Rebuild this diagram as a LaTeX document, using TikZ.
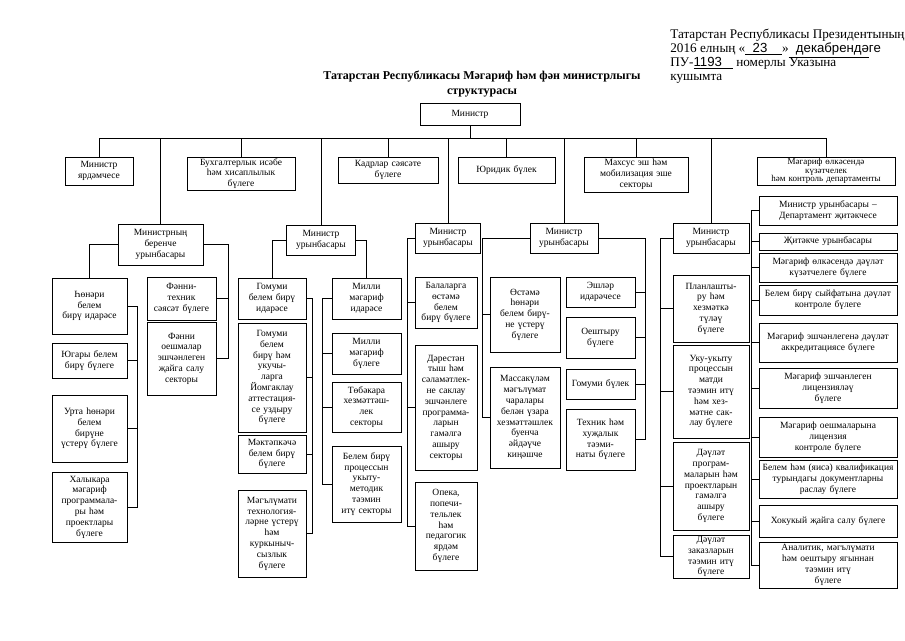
\documentclass[tikz,border=0pt]{standalone}
\usepackage{fontspec}
\setmainfont{Liberation Serif}
\newfontfamily\fillfont{Liberation Sans}
\tikzset{
    unit/.style={draw, align=center, inner xsep=2pt, inner ysep=1pt, font=\fontsize{9.5}{10.8}\selectfont},
    link/.style={-, draw=black},
}

\begin{document}
\begin{tikzpicture}[x=1pt, y=-1pt, line width=0.6pt]
    \useasboundingbox (0,0) rectangle (905,640);
    % header and title
    \node[anchor=north west, align=left, inner sep=0pt, font=\fontsize{13.2}{14}\selectfont] (hdr) at (670,29) {Татарстан Республикасы Президентының\\
        2016 елның «\underline{\fillfont\ \ 23\ \ \ \ }»\underline{\fillfont\ \ декабрендә}{\fillfont ге}\\
        ПУ-\underline{\fillfont 1193\ \ \ }\ номерлы Указына\\
        кушымта};
    \node[align=center, inner sep=0pt, font=\bfseries\fontsize{12}{15}\selectfont] (ttl) at (482,84) {Татарстан Республикасы Мәгариф һәм фән министрлыгы\\структурасы};
    \node[unit, text width=96pt, minimum height=22pt] (min) at (470,114) {Министр};
    % first row
    \node[unit, text width=64pt, minimum height=28pt] (yard) at (99,171) {Министр\\ярдәмчесе};
    \node[unit, text width=104pt, minimum height=33pt] (buh) at (241,173.5) {Бухгалтерлык исәбе\\һәм хисаплылык\\бүлеге};
    \node[unit, text width=96pt, minimum height=26pt] (kadr) at (388,170) {Кадрлар сәясәте\\бүлеге};
    \node[unit, text width=93pt, minimum height=26pt] (yurid) at (506.5,170) {Юридик бүлек};
    \node[unit, text width=100pt, minimum height=35pt] (mahsus) at (636,174.5) {Махсус эш һәм\\мобилизация эше\\секторы};
    \node[unit, text width=134pt, minimum height=28pt, font=\fontsize{9}{8.8}\selectfont] (dep) at (826,171) {Мәгариф өлкәсендә\\күзәтчелек\\һәм контроль департаменты};
    % deputies
    \node[unit, text width=81pt, minimum height=41pt] (dep1) at (160.5,244.5) {Министрның\\беренче\\урынбасары};
    \node[unit, text width=65pt, minimum height=30pt] (dep2) at (321,240) {Министр\\урынбасары};
    \node[unit, text width=61pt, minimum height=30pt] (dep3) at (448,238) {Министр\\урынбасары};
    \node[unit, text width=64pt, minimum height=30pt] (dep4) at (564,238) {Министр\\урынбасары};
    \node[unit, text width=72pt, minimum height=30pt] (dep5) at (711,238) {Министр\\урынбасары};
    % first deputy
    \node[unit, text width=71pt, minimum height=56pt] (hon) at (89.5,306) {Һөнәри\\белем\\бирү идарәсе};
    \node[unit, text width=71pt, minimum height=35pt] (yug) at (89.5,360.5) {Югары белем\\бирү бүлеге};
    \node[unit, text width=71pt, minimum height=67pt] (urta) at (89.5,428.5) {Урта һөнәри\\белем\\бирүне\\үстерү бүлеге};
    \node[unit, text width=71pt, minimum height=70pt] (hal) at (89.5,507) {Халыкара\\мәгариф\\программала-\\ры һәм\\проектлары\\бүлеге};
    \node[unit, text width=65pt, minimum height=43pt] (fte) at (181.5,298.5) {Фәнни-\\техник\\сәясәт бүлеге};
    \node[unit, text width=65pt, minimum height=73pt] (foe) at (181.5,358.5) {Фәнни\\оешмалар\\эшчәнлеген\\җайга салу\\секторы};
    % second deputy
    \node[unit, text width=64pt, minimum height=41pt] (gbi) at (272,298.5) {Гомуми\\белем бирү\\идарәсе};
    \node[unit, text width=64pt, minimum height=109pt] (gbu) at (272,377.5) {Гомуми\\белем\\бирү һәм\\укучы-\\ларга\\Йомгаклау\\аттестация-\\се уздыру\\бүлеге};
    \node[unit, text width=64pt, minimum height=38pt] (mkt) at (272,454) {Мәктәпкәчә\\белем бирү\\бүлеге};
    \node[unit, text width=64pt, minimum height=87pt] (mit) at (272,533.5) {Мәгълүмати\\технология-\\ләрне үстерү\\һәм\\куркыныч-\\сызлык\\бүлеге};
    \node[unit, text width=65pt, minimum height=41pt] (mmi) at (366.5,298.5) {Милли\\мәгариф\\идарәсе};
    \node[unit, text width=65pt, minimum height=41pt] (mmb) at (366.5,353.5) {Милли\\мәгариф\\бүлеге};
    \node[unit, text width=65pt, minimum height=50pt] (tbk) at (366.5,407) {Төбәкара\\хезмәттәш-\\лек\\секторы};
    \node[unit, text width=65pt, minimum height=76pt] (bbp) at (366.5,484) {Белем бирү\\процессын\\укыту-\\методик\\тәэмин\\итү секторы};
    % third deputy
    \node[unit, text width=58pt, minimum height=51pt] (bal) at (446,302.5) {Балаларга\\өстәмә\\белем\\бирү бүлеге};
    \node[unit, text width=58pt, minimum height=125pt] (drs) at (446,407.5) {Дәрестән\\тыш һәм\\сәламәтлек-\\не саклау\\эшчәнлеге\\программа-\\ларын\\гамәлгә\\ашыру\\секторы};
    \node[unit, text width=58pt, minimum height=88pt] (opk) at (446,526) {Опека,\\попечи-\\тельлек\\һәм\\педагогик\\ярдәм\\бүлеге};
    % fourth deputy
    \node[unit, text width=66pt, minimum height=75pt] (ost) at (525,314.5) {Өстәмә\\һөнәри\\белем бирү-\\не үстерү\\бүлеге};
    \node[unit, text width=66pt, minimum height=101pt] (mas) at (525,417.5) {Массакүләм\\мәгълүмат\\чаралары\\белән үзара\\хезмәттәшлек\\буенча\\әйдәүче\\киңәшче};
    \node[unit, text width=65pt, minimum height=30pt] (esh) at (600.5,292) {Эшләр\\идарәчесе};
    \node[unit, text width=65pt, minimum height=41pt] (oes) at (600.5,337.5) {Оештыру\\бүлеге};
    \node[unit, text width=65pt, minimum height=30pt] (gmb) at (600.5,384) {Гомуми бүлек};
    \node[unit, text width=65pt, minimum height=61pt] (teh) at (600.5,439.5) {Техник һәм\\хуҗалык\\тәэми-\\наты бүлеге};
    % fifth deputy
    \node[unit, text width=72pt, minimum height=67pt] (pln) at (711,308.5) {Планлашты-\\ру һәм\\хезмәткә\\түләү\\бүлеге};
    \node[unit, text width=72pt, minimum height=93pt] (uku) at (711,391.5) {Уку-укыту\\процессын\\матди\\тәэмин итү\\һәм хез-\\мәтне сак-\\лау бүлеге};
    \node[unit, text width=72pt, minimum height=88pt] (dpr) at (711,486) {Дәүләт\\програм-\\маларын һәм\\проектларын\\гамәлгә\\ашыру\\бүлеге};
    \node[unit, text width=72pt, minimum height=43pt] (dzk) at (711,556.5) {Дәүләт\\заказларын\\тәэмин итү\\бүлеге};
    % department
    \node[unit, text width=134pt, minimum height=29pt] (r1) at (828,210.5) {Министр урынбасары –\\Департамент җитәкчесе};
    \node[unit, text width=134pt, minimum height=17pt] (r2) at (828,241.5) {Җитәкче урынбасары};
    \node[unit, text width=134pt, minimum height=29pt] (r3) at (828,267.5) {Мәгариф өлкәсендә дәүләт\\күзәтчелеге бүлеге};
    \node[unit, text width=134pt, minimum height=30pt] (r4) at (828,300) {Белем бирү сыйфатына дәүләт\\контроле бүлеге};
    \node[unit, text width=134pt, minimum height=39pt] (r5) at (828,342.5) {Мәгариф эшчәнлегенә дәүләт\\аккредитациясе бүлеге};
    \node[unit, text width=134pt, minimum height=40pt] (r6) at (828,388) {Мәгариф эшчәнлеген\\лицензияләү\\бүлеге};
    \node[unit, text width=134pt, minimum height=40pt] (r7) at (828,437) {Мәгариф оешмаларына\\лицензия\\контроле бүлеге};
    \node[unit, text width=134pt, minimum height=38pt] (r8) at (828,479) {Белем һәм (яисә) квалификация\\турындагы документларны\\раслау бүлеге};
    \node[unit, text width=134pt, minimum height=32pt] (r9) at (828,521) {Хокукый җайга салу бүлеге};
    \node[unit, text width=134pt, minimum height=46pt] (r10) at (828,565) {Аналитик, мәгълүмати\\һәм оештыру ягыннан\\тәэмин итү\\бүлеге};

    % main bus
    \coordinate (bus) at (0,138);
    \draw[link] (min.south) -- (min.south |- bus);
    \draw[link] (yard.north |- bus) -- (dep.north |- bus);
    \draw[link] (yard.north) -- (yard.north |- bus);
    \draw[link] (buh.north) -- (buh.north |- bus);
    \draw[link] (kadr.north) -- (kadr.north |- bus);
    \draw[link] (yurid.north) -- (yurid.north |- bus);
    \draw[link] (mahsus.north) -- (mahsus.north |- bus);
    \draw[link] (dep.north) -- (dep.north |- bus);
    \draw[link] (dep1.north) -- (dep1.north |- bus);
    \draw[link] (dep2.north) -- (dep2.north |- bus);
    \draw[link] (dep3.north) -- (dep3.north |- bus);
    \draw[link] (dep4.north) -- (dep4.north |- bus);
    \draw[link] (dep5.north) -- (dep5.north |- bus);
    % first deputy
    \draw[link] (dep1.west) -| (hon.north);
    \draw[link] (hon.east) -- ++(10,0) coordinate (c1) |- (hal.east);
    \draw[link] (yug.east) -- (yug.east -| c1);
    \draw[link] (urta.east) -- (urta.east -| c1);
    \draw[link] (dep1.east) -- ++(25,0) coordinate (c2) |- (foe.east);
    \draw[link] (fte.east) -- (fte.east -| c2);
    % second deputy
    \draw[link] (dep2.west) -| (gbi.north);
    \draw[link] (dep2.east) -| (mmi.north);
    \draw[link] (gbi.east) -- ++(6,0) coordinate (c3) |- (mit.east);
    \draw[link] (gbu.east) -- (gbu.east -| c3);
    \draw[link] (mkt.east) -- (mkt.east -| c3);
    \draw[link] (mmi.west) -- ++(-9,0) coordinate (c4) |- (bbp.west);
    \draw[link] (mmb.west) -- (mmb.west -| c4);
    \draw[link] (tbk.west) -- (tbk.west -| c4);
    % third deputy
    \draw[link] (dep3.west) -- ++(-8,0) coordinate (c5) |- (opk.west);
    \draw[link] (bal.west) -- (bal.west -| c5);
    \draw[link] (drs.west) -- (drs.west -| c5);
    % fourth deputy
    \draw[link] (dep4.west) -- ++(-47,0) coordinate (c6) |- (mas.west);
    \draw[link] (ost.west) -- (ost.west -| c6);
    \draw[link] (dep4.east) -- ++(47,0) coordinate (c7) |- (teh.east);
    \draw[link] (esh.east) -- (esh.east -| c7);
    \draw[link] (oes.east) -- (oes.east -| c7);
    \draw[link] (gmb.east) -- (gmb.east -| c7);
    % fifth deputy
    \draw[link] (dep5.west) -- ++(-12,0) coordinate (c8) |- (dzk.west);
    \draw[link] (pln.west) -- (pln.west -| c8);
    \draw[link] (uku.west) -- (uku.west -| c8);
    \draw[link] (dpr.west) -- (dpr.west -| c8);
    % department
    \draw[link] (r1.west) -- ++(-7,0) coordinate (c9) |- (r10.west);
    \draw[link] (r2.west) -- (r2.west -| c9);
    \draw[link] (r3.west) -- (r3.west -| c9);
    \draw[link] (r4.west) -- (r4.west -| c9);
    \draw[link] (r5.west) -- (r5.west -| c9);
    \draw[link] (r6.west) -- (r6.west -| c9);
    \draw[link] (r7.west) -- (r7.west -| c9);
    \draw[link] (r8.west) -- (r8.west -| c9);
    \draw[link] (r9.west) -- (r9.west -| c9);
\end{tikzpicture}
\end{document}
